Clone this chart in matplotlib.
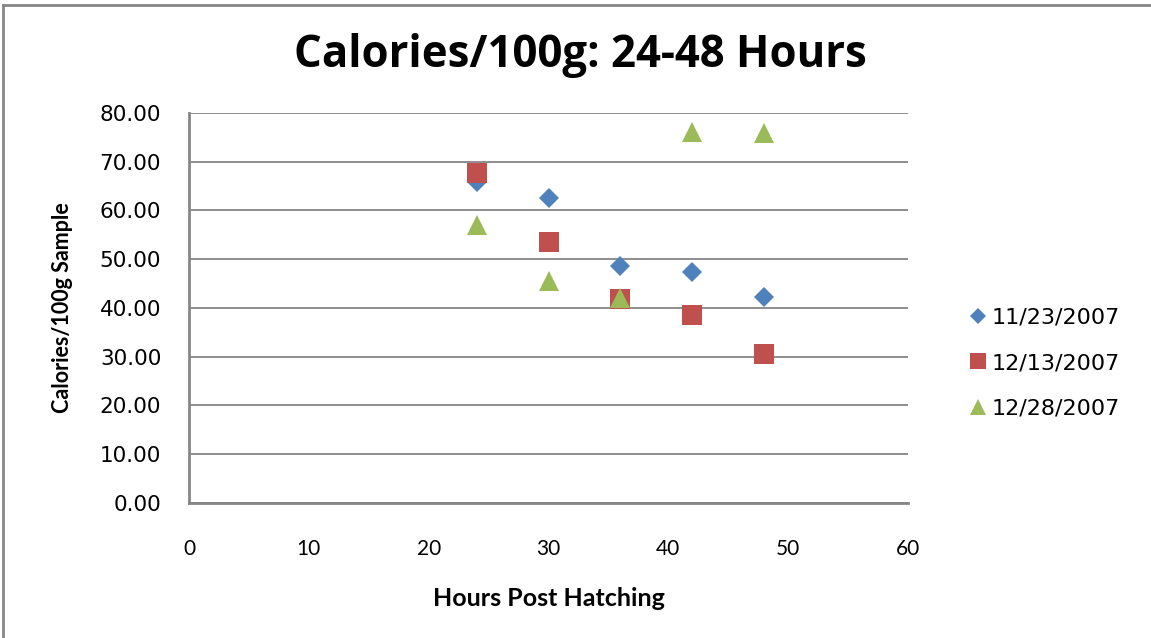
import matplotlib.pyplot as plt
from matplotlib.lines import Line2D

# Calories per 100 g at each hour post hatching, one series per batch date
hours = [24, 30, 36, 42, 48]
cal_1123 = [65.8, 62.6, 48.7, 47.3, 42.2]
cal_1213 = [67.6, 53.5, 41.9, 38.5, 30.6]
cal_1228 = [57.1, 45.6, 42.0, 76.0, 75.8]
labels = ['11/23/2007', '12/13/2007', '12/28/2007']

x_ticks = [0, 10, 20, 30, 40, 50, 60]
y_ticks = [0, 10, 20, 30, 40, 50, 60, 70, 80]

grey = '#868686'

fig = plt.figure(figsize=(11.51, 6.38), dpi=100)
ax = fig.add_axes([0.1642, 0.2116, 0.6247, 0.6113])

ax.plot(hours, cal_1123, 'D', color='#4F81BD', ms=10, mew=0, label=labels[0])
ax.plot(hours, cal_1213, 's', color='#C0504D', ms=14, mew=0, label=labels[1])
ax.plot(hours, cal_1228, '^', color='#9BBB59', ms=14, mew=0, label=labels[2])

ax.set_xlim(0, 60)
ax.set_ylim(0, 80)
ax.set_xticks(x_ticks, [str(v) for v in x_ticks])
ax.set_yticks(y_ticks, [f'{v:.2f}' for v in y_ticks])
for t in ax.get_yticklabels():
    t.set_fontfamily('DejaVu Sans')
    t.set_fontsize(15.5)
for t in ax.get_xticklabels():
    t.set_fontfamily('Lato')
    t.set_fontsize(15)
ax.tick_params(axis='y', length=0, pad=20, colors='black')
ax.tick_params(axis='x', length=0, pad=26, colors='black')

ax.grid(axis='y', color=grey, linewidth=1.3)
ax.set_axisbelow(True)
for side in ['top', 'right']:
    ax.spines[side].set_visible(False)
for side in ['left', 'bottom']:
    ax.spines[side].set_color(grey)
    ax.spines[side].set_linewidth(2)

ax.set_xlabel('Hours Post Hatching', family='Lato', fontweight='bold',
              fontsize=18, labelpad=20)
ax.set_ylabel('Calories/100g Sample', family='Lato', fontweight='bold',
              fontsize=15.5, labelpad=19)
fig.text(0.504, 0.913, 'Calories/100g: 24-48 Hours', family='Open Sans',
         fontweight='bold', fontsize=31.5, ha='center', va='center')

ax.legend(loc='center left', bbox_to_anchor=(0.829, 0.431),
          bbox_transform=fig.transFigure, frameon=False,
          prop={'family': 'DejaVu Sans', 'size': 16},
          handletextpad=0.1, handlelength=1.1, labelspacing=1.15,
          markerscale=0.85, borderpad=0)

# outer chart frame
fig.add_artist(Line2D([0.003, 0.003], [0, 0.992], color=grey, lw=2,
                      transform=fig.transFigure))
fig.add_artist(Line2D([0.003, 1.0], [0.992, 0.992], color=grey, lw=2,
                      transform=fig.transFigure))

fig.savefig('out.png', dpi=100)
